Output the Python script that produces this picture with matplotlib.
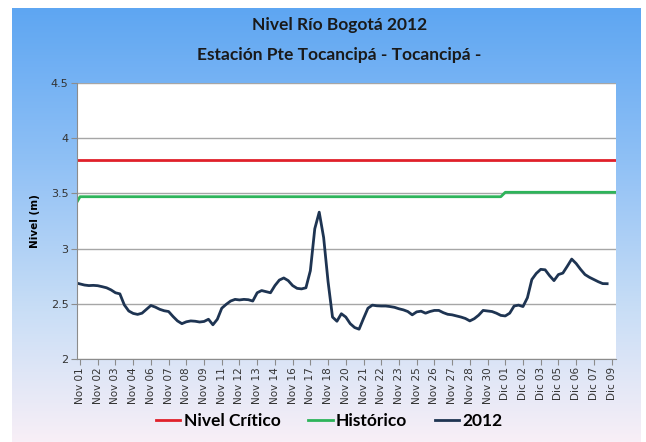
import matplotlib
matplotlib.use("Agg")
import matplotlib.pyplot as plt
import numpy as np
from matplotlib.colors import LinearSegmentedColormap

# x tick labels (category axis, one label per unit)
tick_labels = ["Nov 01", "Nov 02", "Nov 03", "Nov 04", "Nov 06", "Nov 07", "Nov 08",
               "Nov 09", "Nov 11", "Nov 12", "Nov 13", "Nov 14", "Nov 16", "Nov 17",
               "Nov 18", "Nov 20", "Nov 21", "Nov 22", "Nov 23", "Nov 25", "Nov 26",
               "Nov 27", "Nov 28", "Nov 30", "Dic 01", "Dic 02", "Dic 03", "Dic 05",
               "Dic 06", "Dic 07", "Dic 09"]

# 2012 level, read every quarter of a label step (starts a quarter before Nov 01,
# no readings for the last two steps)
nivel_2012 = [
    2.69,
    2.68, 2.67, 2.665, 2.667, 2.664, 2.655, 2.645, 2.626,
    2.60, 2.59, 2.49, 2.435, 2.413, 2.404, 2.415, 2.45,
    2.485, 2.47, 2.45, 2.437, 2.43, 2.385, 2.345, 2.32,
    2.337, 2.345, 2.342, 2.335, 2.34, 2.36, 2.31, 2.36,
    2.46, 2.495, 2.525, 2.54, 2.535, 2.54, 2.537, 2.525,
    2.60, 2.62, 2.61, 2.60, 2.665, 2.715, 2.734, 2.71,
    2.665, 2.64, 2.635, 2.645, 2.80, 3.18, 3.33, 3.10,
    2.70, 2.38, 2.342, 2.41, 2.38, 2.32, 2.285, 2.27,
    2.367, 2.46, 2.488, 2.482, 2.48, 2.48, 2.475, 2.468,
    2.455, 2.445, 2.43, 2.40, 2.427, 2.433, 2.415, 2.43,
    2.44, 2.44, 2.42, 2.405, 2.40, 2.39, 2.38, 2.367,
    2.345, 2.365, 2.397, 2.44, 2.435, 2.43, 2.415, 2.395,
    2.39, 2.415, 2.48, 2.488, 2.475, 2.555, 2.72, 2.775,
    2.812, 2.808, 2.755, 2.71, 2.765, 2.778, 2.84, 2.905,
    2.865, 2.812, 2.765, 2.74, 2.72, 2.70, 2.683, 2.682,
    np.nan, np.nan,
]
n_points = len(nivel_2012)
x_vals = np.arange(n_points) / 4.0 - 0.25

nivel_critico = [3.8] * n_points
historico = [3.40] + [3.47] * 96 + [3.51] * (n_points - 97)

fig = plt.figure(figsize=(6.46, 4.42), dpi=100)
fig.patch.set_facecolor("white")

# blue gradient panel behind the chart
bg = fig.add_axes([12 / 646, 0, 629 / 646, 434 / 442], zorder=-2)
cmap = LinearSegmentedColormap.from_list(
    "bg", [(0.0, "#5ea6f2"), (0.35, "#8fc0f5"), (0.7, "#c9def6"), (1.0, "#f8eff7")])
grad = np.linspace(0, 1, 256).reshape(-1, 1)
bg.imshow(grad, aspect="auto", cmap=cmap, extent=[0, 1, 0, 1], origin="upper")
bg.set_axis_off()

ax = fig.add_axes([77 / 646, 1 - 359 / 442, 539 / 646, 276 / 442])
ax.set_facecolor("white")
l1, = ax.plot(x_vals, nivel_critico, color="#e0202a", lw=2.0, label="Nivel Crítico")
l2, = ax.plot(x_vals, historico, color="#2db45a", lw=2.0, label="Histórico")
l3, = ax.plot(x_vals, nivel_2012, color="#1e3452", lw=2.0, label="2012")

ax.set_xlim(-0.17, 30.25)
ax.set_ylim(2, 4.5)
ax.set_yticks([2, 2.5, 3, 3.5, 4, 4.5])
ax.set_yticklabels(["2", "2.5", "3", "3.5", "4", "4.5"], fontsize=8, color="#333333")
ax.set_xticks(range(len(tick_labels)))
ax.set_xticklabels(tick_labels, rotation=90, fontsize=7.5, color="#333333")
ax.grid(axis="y", color="#a6a6a6", lw=1)
ax.set_axisbelow(True)
for side in ["top", "right"]:
    ax.spines[side].set_visible(False)
for side in ["left", "bottom"]:
    ax.spines[side].set_color("#8c8c8c")
ax.tick_params(axis="both", length=4, color="#8c8c8c", pad=2)
ax.set_ylabel("Nivel (m)", fontsize=7.5, fontweight="bold", labelpad=8)

fig.text(0.525, 1 - 25 / 442, "Nivel Río Bogotá 2012", ha="center", va="center",
         fontsize=12.5, fontweight="bold", family="Lato", color="#1a1a1a")
fig.text(0.525, 1 - 55 / 442, "Estación Pte Tocancipá - Tocancipá -", ha="center",
         va="center", fontsize=12.5, fontweight="bold", family="Lato", color="#1a1a1a")

fig.legend(handles=[l1, l2, l3], loc="center", bbox_to_anchor=(0.51, 1 - 421 / 442),
           ncol=3, frameon=False, handlelength=1.4, handletextpad=0.2,
           columnspacing=1.6, prop={"family": "Lato", "weight": "bold", "size": 12.5})

fig.savefig("out.png", dpi=100)
